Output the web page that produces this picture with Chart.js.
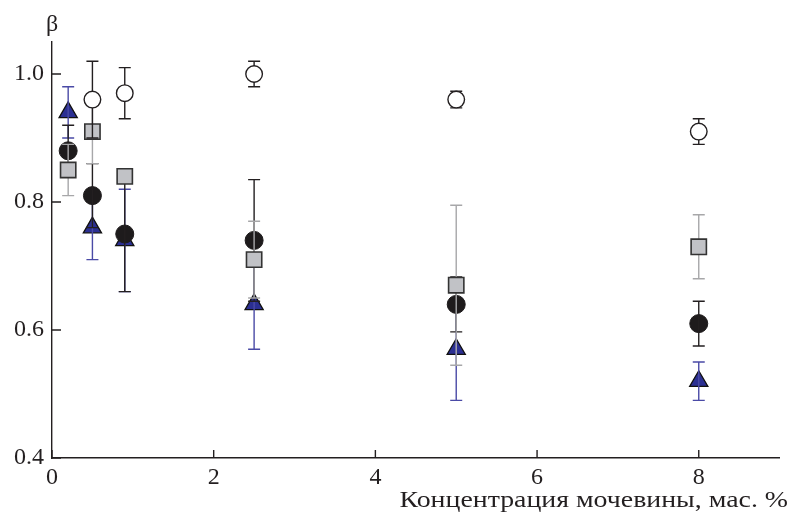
<!DOCTYPE html>
<html>
<head>
<meta charset="utf-8">
<script src="https://cdn.jsdelivr.net/npm/chart.js@4"></script>
<style>
  html, body { margin: 0; padding: 0; background: #fff; }
  #wrap { width: 792px; height: 512px; position: relative; }
</style>
</head>
<body>
<div id="wrap"><canvas id="c"></canvas></div>
<script>
// Urea concentration, wt. %
const xValues = [0.2, 0.5, 0.9, 2.5, 5, 8];
const xTicks = [0, 2, 4, 6, 8];
const yTicks = [0.4, 0.6, 0.8, 1.0];
const xTitle = 'Концентрация мочевины, мас. %';
const yTitle = 'β';

// Four series of beta with their error half-widths (null = no measurement)
const openValues     = [null, 0.96, 0.97, 1.00, 0.96, 0.91];
const openErr        = [null, 0.06, 0.04, 0.02, 0.013, 0.02];
const blackValues    = [0.88, 0.81, 0.75, 0.74, 0.64, 0.61];
const blackErr       = [0.04, 0.05, 0.09, 0.095, 0.043, 0.035];
const squareValues   = [0.85, 0.91, 0.84, 0.71, 0.67, 0.73];
const squareErr      = [0.04, 0.05, 0.01, 0.06, 0.125, 0.05];
const triangleValues = [0.94, 0.76, 0.74, 0.64, 0.57, 0.52];
const triangleErr    = [0.04, 0.05, 0.08, 0.07, 0.08, 0.03];

const FONT = "'Liberation Serif', 'Times New Roman', serif";
const INK = '#231f20';

function points(vals) {
  const out = [];
  xValues.forEach((x, i) => { if (vals[i] != null) out.push({ x: x, y: vals[i] }); });
  return out;
}

function drawBars(chart, vals, errs, color) {
  const ctx = chart.ctx, xs = chart.scales.x, ys = chart.scales.y;
  ctx.save();
  ctx.strokeStyle = color;
  ctx.lineWidth = 1.4;
  xValues.forEach((x, i) => {
    if (vals[i] == null || errs[i] == null) return;
    const px = xs.getPixelForValue(x);
    const top = ys.getPixelForValue(vals[i] + errs[i]);
    const bot = ys.getPixelForValue(vals[i] - errs[i]);
    ctx.beginPath();
    ctx.moveTo(px, top); ctx.lineTo(px, bot);
    ctx.moveTo(px - 6, top); ctx.lineTo(px + 6, top);
    ctx.moveTo(px - 6, bot); ctx.lineTo(px + 6, bot);
    ctx.stroke();
  });
  ctx.restore();
}

// error bars are layered between the marker sets
const errorBars = {
  id: 'errorBars',
  afterDatasetDraw(chart, args) {
    const id = chart.data.datasets[args.index].id;
    if (id === 'tri') {
      drawBars(chart, triangleValues, triangleErr, '#4a4aa6');
    } else if (id === 'black') {
      drawBars(chart, blackValues, blackErr, INK);
      drawBars(chart, squareValues, squareErr, '#a7a7a9');
    } else if (id === 'square') {
      drawBars(chart, openValues, openErr, INK);
    }
  }
};

// inward tick marks and the two axis titles
const axisDecor = {
  id: 'axisDecor',
  afterDraw(chart) {
    const ctx = chart.ctx, xs = chart.scales.x, ys = chart.scales.y;
    const a = chart.chartArea;
    ctx.save();
    ctx.strokeStyle = INK;
    ctx.lineWidth = 1.4;
    ctx.beginPath();
    yTicks.forEach(v => {
      const py = ys.getPixelForValue(v);
      ctx.moveTo(a.left, py); ctx.lineTo(a.left + 9, py);
    });
    xTicks.forEach(v => {
      const px = xs.getPixelForValue(v);
      ctx.moveTo(px, a.bottom); ctx.lineTo(px, a.bottom - 8);
    });
    ctx.stroke();
    ctx.fillStyle = INK;
    ctx.font = "24px " + FONT;
    ctx.textAlign = 'center';
    ctx.textBaseline = 'middle';
    ctx.fillText(yTitle, a.left, 25);

    // x title, right-aligned under the axis, set slightly wide
    ctx.font = "24px " + FONT;
    ctx.textAlign = 'right';
    ctx.textBaseline = 'alphabetic';
    ctx.translate(chart.width - 4, 507);
    ctx.scale(1.16, 1);
    ctx.fillText(xTitle, 0, 0);
    ctx.restore();
  }
};

new Chart(document.getElementById('c'), {
  type: 'scatter',
  data: {
    datasets: [
      { id: 'open', data: points(openValues), order: 1,
        pointStyle: 'circle', pointRadius: 8.3, pointHoverRadius: 8.3,
        backgroundColor: '#ffffff', borderColor: INK, borderWidth: 1.4 },
      { id: 'square', data: points(squareValues), order: 2,
        pointStyle: 'rect', pointRadius: 10.8, pointHoverRadius: 10.8,
        backgroundColor: '#c1c2c6', borderColor: '#333333', borderWidth: 1.6 },
      { id: 'black', data: points(blackValues), order: 3,
        pointStyle: 'circle', pointRadius: 9, pointHoverRadius: 9,
        backgroundColor: '#1e1b1c', borderColor: '#1e1b1c', borderWidth: 1 },
      { id: 'tri', data: points(triangleValues), order: 4,
        pointStyle: 'triangle', pointRadius: 10.5, pointHoverRadius: 10.5,
        backgroundColor: '#2b2f92', borderColor: '#111111', borderWidth: 1.3 }
    ]
  },
  options: {
    responsive: true,
    maintainAspectRatio: false,
    animation: false,
    events: [],
    layout: { padding: { top: 42, right: 2, left: 0, bottom: 0 } },
    plugins: { legend: { display: false }, tooltip: { enabled: false } },
    scales: {
      x: {
        type: 'linear', min: 0, max: 9,
        afterBuildTicks: s => { s.ticks = xTicks.map(v => ({ value: v })); },
        afterFit: s => { s.height = 54; },
        grid: { display: false, drawTicks: false },
        border: { display: true, color: INK, width: 1.4 },
        ticks: { color: INK, font: { family: FONT, size: 24 }, padding: 5, maxRotation: 0,
                 callback: v => String(v) }
      },
      y: {
        type: 'linear', min: 0.4, max: 1.05,
        afterBuildTicks: s => { s.ticks = yTicks.map(v => ({ value: v })); },
        afterFit: s => { s.width = 52; },
        grid: { display: false, drawTicks: false },
        border: { display: true, color: INK, width: 1.4 },
        ticks: { color: INK, font: { family: FONT, size: 24 }, padding: 8,
                 callback: v => Number(v).toFixed(1) }
      }
    }
  },
  plugins: [errorBars, axisDecor]
});
</script>
</body>
</html>
